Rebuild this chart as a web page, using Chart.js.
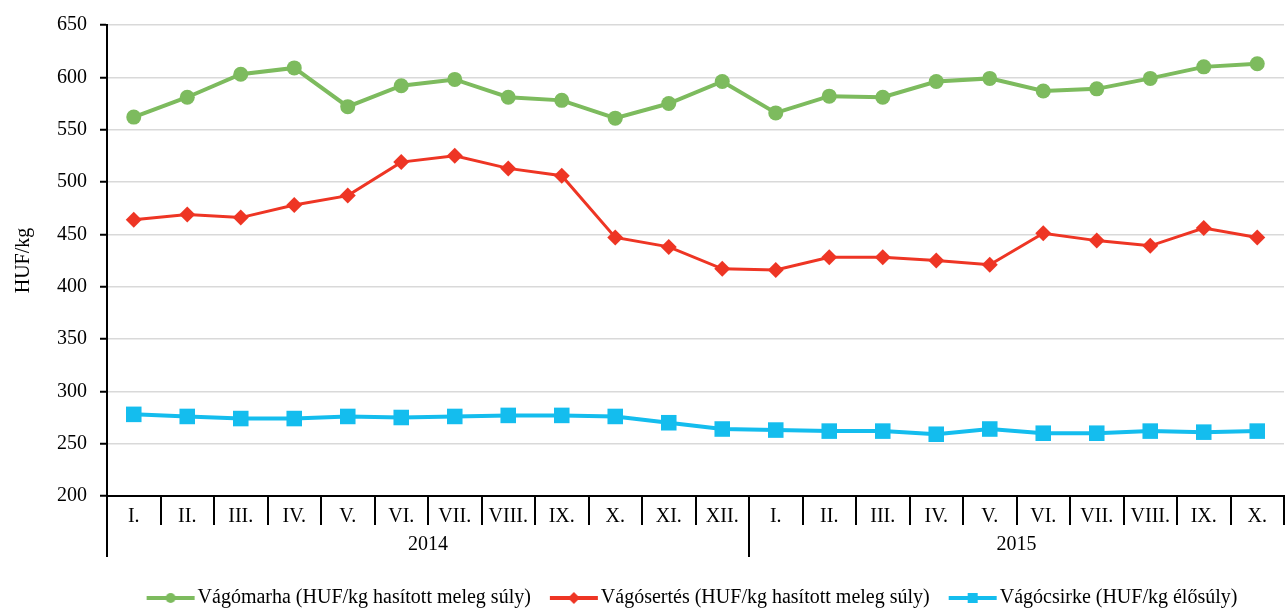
<!DOCTYPE html>
<html>
<head>
<meta charset="utf-8">
<script src="https://cdn.jsdelivr.net/npm/chart.js@4"></script>
<style>
  html, body { margin: 0; padding: 0; background: #fff; overflow: hidden; }
  #wrap { width: 1285px; height: 610px; position: relative; }
  #grafico { display: block; }
</style>
</head>
<body>
<div id="wrap"><canvas id="grafico"></canvas></div>
<script>
// honapok (ket ev, 2014 I. - 2015 X.)
const honapok = ['I.', 'II.', 'III.', 'IV.', 'V.', 'VI.', 'VII.', 'VIII.', 'IX.', 'X.', 'XI.', 'XII.',
                 'I.', 'II.', 'III.', 'IV.', 'V.', 'VI.', 'VII.', 'VIII.', 'IX.', 'X.'];
const evek = ['2014', '2015'];
const evHonapok = [12, 10];

const vagomarha = [562, 581, 603, 609, 572, 592, 598, 581, 578, 561, 575, 596,
                   566, 582, 581, 596, 599, 587, 589, 599, 610, 613];
const vagosertes = [464, 469, 466, 478, 487, 519, 525, 513, 506, 447, 438, 417,
                    416, 428, 428, 425, 421, 451, 444, 439, 456, 447];
const vagocsirke = [278, 276, 274, 274, 276, 275, 276, 277, 277, 276, 270, 264,
                    263, 262, 262, 259, 264, 260, 260, 262, 261, 262];

const cimkek = ['Vágómarha (HUF/kg hasított meleg súly)',
                'Vágósertés (HUF/kg hasított meleg súly)',
                'Vágócsirke (HUF/kg élősúly)'];

const ZOLD = '#7dbb5e';
const PIROS = '#ee3524';
const KEK = '#14bdee';
const BETU = 'Liberation Serif';
const MERET = 20;

// kis kep a jelmagyarazathoz: vonal + jelolo
function jelKep(szin, forma) {
    const c = document.createElement('canvas');
    c.width = 50; c.height = 14;
    const g = c.getContext('2d');
    g.strokeStyle = szin;
    g.lineWidth = 4;
    g.beginPath(); g.moveTo(1, 7); g.lineTo(49, 7); g.stroke();
    g.fillStyle = szin;
    g.beginPath();
    if (forma === 'circle') {
        g.arc(25, 7, 5, 0, Math.PI * 2);
    } else if (forma === 'rectRot') {
        g.moveTo(19, 7); g.lineTo(25, 1); g.lineTo(31, 7); g.lineTo(25, 13); g.closePath();
    } else {
        g.rect(20, 2, 10, 10);
    }
    g.fill();
    return c;
}

const jelek = [jelKep(ZOLD, 'circle'), jelKep(PIROS, 'rectRot'), jelKep(KEK, 'rect')];

// jelmagyarazat a rajzterulet ala kozepre, kicsit lejjebb
const jelHely = {
    id: 'jelHely',
    afterLayout(chart) {
        const lg = chart.legend;
        const ca = chart.chartArea;
        const dx = ((ca.left + ca.right) - (lg.left + lg.right)) / 2;
        lg.left += dx; lg.right += dx;
        lg.top += 8; lg.bottom += 8;
    }
};

// ketszintu x tengely: honap-elvalasztok, evek
const evTengely = {
    id: 'evTengely',
    afterDraw(chart) {
        const ctx = chart.ctx;
        const x = chart.scales.x;
        const fel = (x.getPixelForValue(1) - x.getPixelForValue(0)) / 2;
        const teteje = x.top;
        ctx.save();
        ctx.strokeStyle = '#000';
        ctx.lineWidth = 2;
        for (let i = 0; i < honapok.length; i++) {
            const px = Math.round(x.getPixelForValue(i) + fel);
            ctx.beginPath(); ctx.moveTo(px, teteje); ctx.lineTo(px, teteje + 29); ctx.stroke();
        }
        let kezd = 0;
        ctx.fillStyle = '#000';
        ctx.font = MERET + 'px "' + BETU + '"';
        ctx.textAlign = 'center';
        ctx.textBaseline = 'middle';
        for (let k = 0; k < evek.length; k++) {
            const bal = x.getPixelForValue(kezd) - fel;
            const jobb = x.getPixelForValue(kezd + evHonapok[k] - 1) + fel;
            const px = Math.round(bal);
            ctx.beginPath(); ctx.moveTo(px, teteje); ctx.lineTo(px, teteje + 61); ctx.stroke();
            ctx.fillText(evek[k], (bal + jobb) / 2, teteje + 49);
            kezd += evHonapok[k];
        }
        ctx.restore();
    }
};

const ctx = document.getElementById('grafico');
const grafikon = new Chart(ctx, {
    type: 'line',
    data: {
        labels: honapok,
        datasets: [{
            label: cimkek[0],
            data: vagomarha,
            borderColor: ZOLD,
            backgroundColor: ZOLD,
            borderWidth: 4,
            pointStyle: 'circle',
            pointRadius: 7.5,
            pointHoverRadius: 7.5,
            pointBorderWidth: 0
        }, {
            label: cimkek[1],
            data: vagosertes,
            borderColor: PIROS,
            backgroundColor: PIROS,
            borderWidth: 3,
            pointStyle: 'rectRot',
            pointRadius: 8,
            pointHoverRadius: 8,
            pointBorderWidth: 0
        }, {
            label: cimkek[2],
            data: vagocsirke,
            borderColor: KEK,
            backgroundColor: KEK,
            borderWidth: 4,
            pointStyle: 'rect',
            pointRadius: 11,
            pointHoverRadius: 11,
            pointBorderWidth: 0
        }]
    },
    options: {
        responsive: true,
        maintainAspectRatio: false,
        animation: false,
        layout: { autoPadding: false, padding: { top: 11, right: 1, left: 12, bottom: 0 } },
        plugins: {
            tooltip: { enabled: false },
            legend: {
                position: 'bottom',
                labels: {
                    usePointStyle: true,
                    pointStyleWidth: 34,
                    padding: 26,
                    color: '#000',
                    font: { family: BETU, size: MERET },
                    generateLabels(chart) {
                        return chart.data.datasets.map((d, i) => ({
                            text: d.label,
                            pointStyle: jelek[i],
                            fillStyle: d.borderColor,
                            strokeStyle: d.borderColor,
                            lineWidth: 0,
                            fontColor: '#000',
                            hidden: false,
                            datasetIndex: i
                        }));
                    }
                }
            }
        },
        scales: {
            x: {
                offset: true,
                grid: { display: false },
                border: { color: '#000', width: 2 },
                ticks: {
                    color: '#000',
                    font: { family: BETU, size: MERET },
                    padding: 1,
                    maxRotation: 0,
                    autoSkip: false
                },
                afterFit(scale) {
                    scale.height += 24;
                    scale.paddingLeft = 0;
                    scale.paddingRight = 0;
                }
            },
            y: {
                min: 200,
                max: 650,
                ticks: {
                    stepSize: 50,
                    color: '#000',
                    font: { family: BETU, size: MERET },
                    padding: 13
                },
                grid: { color: '#d9d9d9', lineWidth: 1.5, tickColor: '#000', tickLength: 7, tickWidth: 2 },
                border: { color: '#000', width: 2 },
                title: {
                    display: true,
                    text: 'HUF/kg',
                    color: '#000',
                    font: { family: BETU, size: MERET },
                    padding: { top: 0, bottom: 8 }
                }
            }
        }
    },
    plugins: [evTengely, jelHely]
});
</script>
</body>
</html>
